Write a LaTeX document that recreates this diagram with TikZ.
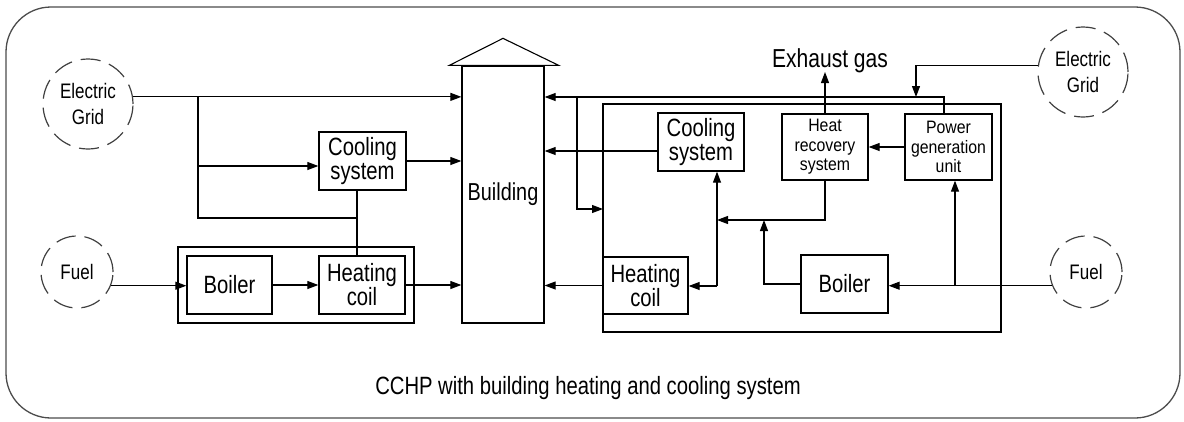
\documentclass[tikz,border=0pt]{standalone}
\usepackage{fontspec}
\setmainfont{Liberation Sans}[FakeStretch=0.81]
\newfontfamily\wideface{Liberation Sans}[FakeStretch=0.88]
\usetikzlibrary{arrows.meta,calc}
\begin{document}
\begin{tikzpicture}[x=1pt,y=-1pt,
  box/.style={draw, line width=1.3pt, inner sep=0pt, align=center},
  conn/.style={line width=1.1pt},
  arr/.style={conn, -{Triangle[length=11pt,width=8pt]}},
  dcirc/.style={circle, draw=black!75, line width=1.2pt, dash pattern=on 20pt off 9pt, inner sep=0pt, align=center, font=\fontsize{21}{26}\selectfont},
  bigtxt/.style={font=\fontsize{25}{24}\selectfont},
  smalltxt/.style={font=\wideface\fontsize{18}{19.5}\selectfont}
]
\useasboundingbox (0,0) rectangle (1184,421);
\draw[black!70, line width=1.3pt, rounded corners=45pt] (6,7) rectangle (1180,418);

% circles
\node[dcirc, minimum size=90pt] (egl) at (88,104) {Electric\\Grid};
\node[dcirc, minimum size=72pt] (fuell) at (77,272) {Fuel};
\node[dcirc, minimum size=90pt] (egr) at (1083,72) {Electric\\Grid};
\node[dcirc, minimum size=72pt] (fuelr) at (1086,272) {Fuel};

% left side
\node[box, minimum width=236pt, minimum height=76pt] (lgroup) at (296,285) {};
\node[box, bigtxt, minimum width=87pt, minimum height=58pt] (lcool) at (362.5,161) {Cooling\\system};
\node[box, bigtxt, minimum width=85pt, minimum height=58pt] (lboil) at (229.5,285) {Boiler};
\node[box, bigtxt, minimum width=86pt, minimum height=58pt] (lheat) at (362,285) {Heating\\coil};

% building
\node[box, font=\fontsize{24.5}{24}\selectfont, minimum width=82pt, minimum height=257pt] (bld) at (503,194.5) {\raisebox{6pt}{Building}};
\draw[line width=1.1pt] ($(bld.north west)+(-12,0)$) -- ($(bld.north)+(0,-27)$) -- ($(bld.north east)+(14,0)$) -- cycle;

% right side
\node[box, minimum width=398pt, minimum height=228pt] (rbox) at (802,218) {};
\node[box, bigtxt, minimum width=86pt, minimum height=58pt] (rcool) at (701,142) {Cooling\\system};
\node[box, smalltxt, minimum width=86pt, minimum height=66pt] (hrs) at (825,147) {Heat\\recovery\\system};
\node[box, smalltxt, minimum width=87pt, minimum height=66pt] (pgu) at (948.5,147) {Power\\generation\\unit};
\node[box, bigtxt, minimum width=87pt, minimum height=58pt] (rboil) at (844.5,284) {Boiler};
\node[box, bigtxt, minimum width=85pt, minimum height=57pt] (rheat) at (645.5,285.5) {Heating\\coil};

% texts
\node[font=\fontsize{26}{26}\selectfont, anchor=base, inner sep=0pt] (exh) at (830,67) {Exhaust gas};
\node[font=\fontsize{25}{25}\selectfont, anchor=base, inner sep=0pt] (cap) at (588,394) {CCHP with building heating and cooling system};

% junction coordinates
\coordinate (j1) at (198,97);
\coordinate (j2) at (198,218);
\coordinate (j3) at (357,218);
\coordinate (j4) at (198,166);
\coordinate (t1) at (944,97);
\coordinate (t2) at (577,97);
\coordinate (t3) at (603,209);
\coordinate (t4) at (916,97);
\coordinate (r151) at (600,151);
\coordinate (k1) at (717,220);
\coordinate (k2) at (717,286);
\coordinate (k3) at (764,220);
\coordinate (k4) at (955,286);

% left connectors
\draw[arr] (egl.9) -- (egl.9 -| bld.west);
\draw[conn] (j1) -- (j2) -- (j3);
\draw[conn] (lcool.south -| j3) -- (lheat.north -| j3);
\draw[arr] (j4) -- (j4 -| lcool.west);
\draw[arr] (lcool.east |- j4) ++(0,-5) coordinate (lce) (lce) -- (lce -| bld.west);
\draw[arr] (fuell.-22) -- (fuell.-22 -| lboil.west);
\draw[arr] (lboil.east) -- (lheat.west);
\draw[arr] (lheat.east) -- (lheat.east -| bld.west);

% right connectors
\draw[arr] (pgu.north -| t1) -- (t1) -- (t1 -| bld.east);
\draw[arr] (t2) |- (t3);
\draw[arr] (egr.172) -| (t4);
\draw[arr] (rcool.west |- r151) -- (bld.east |- r151);
\draw[arr] (rheat.west) -- (rheat.west -| bld.east);
\draw[arr] (hrs.north) -- (hrs.north |- 0,72);
\draw[arr] (pgu.west) -- (hrs.east);
\draw[arr] (hrs.south) |- (k1);
\draw[arr] (k2) -- (k2 |- rcool.south);
\draw[arr] (k2) -- (k2 -| rheat.east);
\draw[arr] (rboil.west) -| (k3);
\draw[arr] (fuelr.202) -- (fuelr.202 -| rboil.east);
\draw[arr] (k4) -- (k4 |- pgu.south);
\end{tikzpicture}
\end{document}
